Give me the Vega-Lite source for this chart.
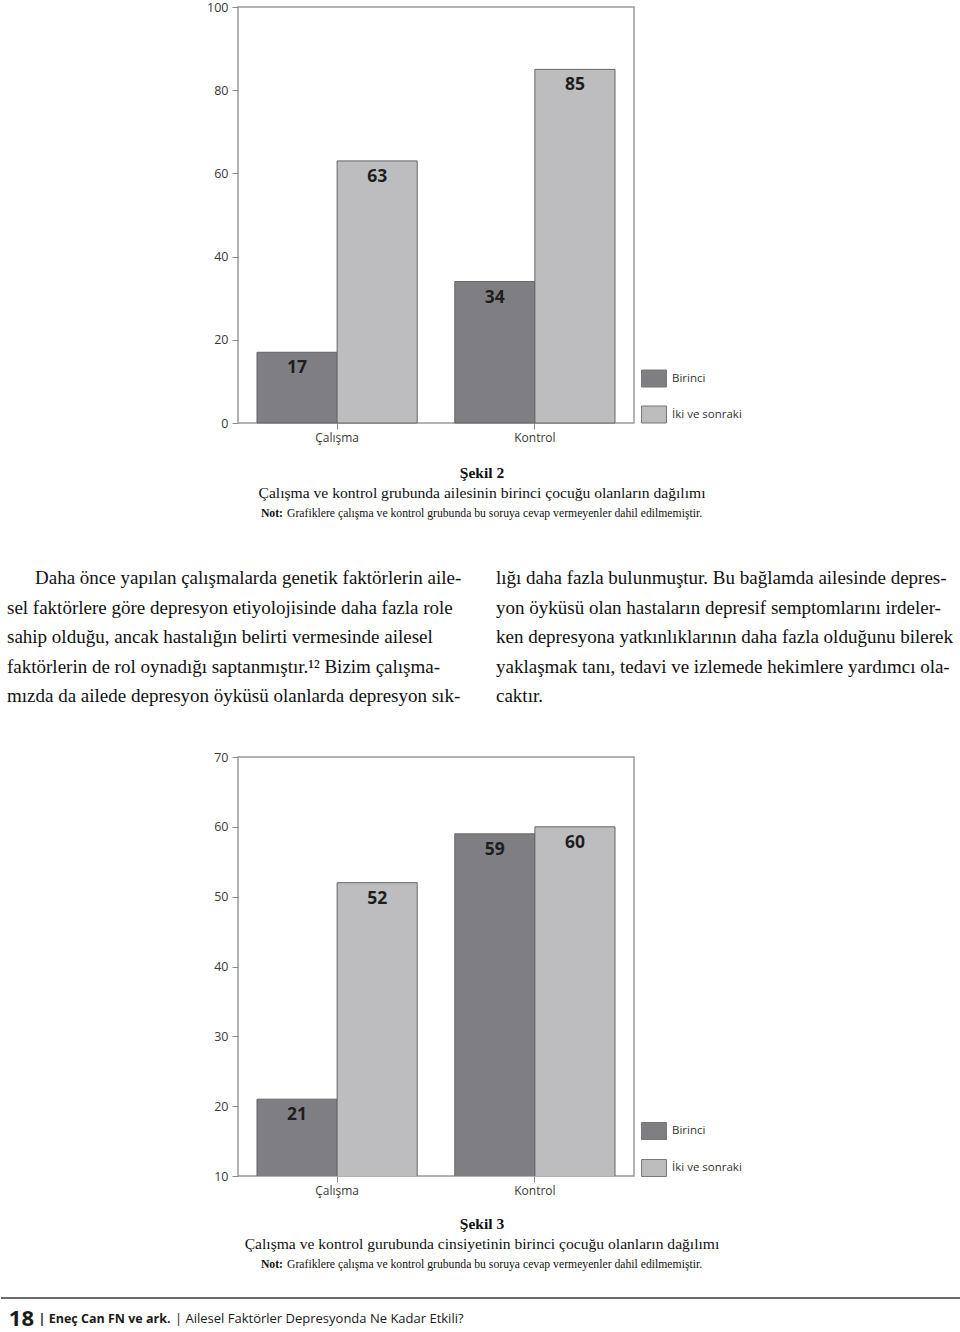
{
  "$schema": "https://vega.github.io/schema/vega-lite/v6.json",
  "padding": {"left": 0, "top": 0, "right": 0, "bottom": 0},
  "background": "white",
  "spacing": 0,
  "bounds": "flush",
  "resolve": {"scale": {"color": "independent"}, "legend": {"color": "independent"}},
  "config": {
    "view": {"stroke": "#9b9b9b", "strokeWidth": 1.5},
    "font": "Open Sans",
    "axis": {"labelFont": "Open Sans", "labelFontSize": 12.5, "labelColor": "#3a3a3a", "tickColor": "#8a8a8a", "domain": false, "grid": false, "tickSize": 6, "title": null},
    "legend": {"labelFont": "Open Sans", "labelFontSize": 11.5, "labelColor": "#333333", "padding": 0}
  },
  "datasets": {
    "sekil2": [
      {"grup": "Çalışma", "sira": "Birinci", "yuzde": 17},
      {"grup": "Çalışma", "sira": "İki ve sonraki", "yuzde": 63},
      {"grup": "Kontrol", "sira": "Birinci", "yuzde": 34},
      {"grup": "Kontrol", "sira": "İki ve sonraki", "yuzde": 85}
    ],
    "sekil3": [
      {"grup": "Çalışma", "sira": "Birinci", "yuzde": 21},
      {"grup": "Çalışma", "sira": "İki ve sonraki", "yuzde": 52},
      {"grup": "Kontrol", "sira": "Birinci", "yuzde": 59},
      {"grup": "Kontrol", "sira": "İki ve sonraki", "yuzde": 60}
    ],
    "baslik2": [
      {"satir": 1, "parca": "orta", "metin": "Şekil 2"},
      {"satir": 2, "parca": "orta", "metin": "Çalışma ve kontrol grubunda ailesinin birinci çocuğu olanların dağılımı"},
      {"satir": 3, "parca": "a", "metin": "Not:"},
      {"satir": 3, "parca": "b", "metin": "Grafiklere çalışma ve kontrol grubunda bu soruya cevap vermeyenler dahil edilmemiştir."}
    ],
    "baslik3": [
      {"satir": 1, "parca": "orta", "metin": "Şekil 3"},
      {"satir": 2, "parca": "orta", "metin": "Çalışma ve kontrol gurubunda cinsiyetinin birinci çocuğu olanların dağılımı"},
      {"satir": 3, "parca": "a", "metin": "Not:"},
      {"satir": 3, "parca": "b", "metin": "Grafiklere çalışma ve kontrol grubunda bu soruya cevap vermeyenler dahil edilmemiştir."}
    ],
    "paragraf": [
      {"sutun": "L", "satir": 1, "metin": "Daha önce yapılan çalışmalarda genetik faktörlerin aile-"},
      {"sutun": "L", "satir": 2, "metin": "sel faktörlere göre depresyon etiyolojisinde daha fazla role"},
      {"sutun": "L", "satir": 3, "metin": "sahip olduğu, ancak hastalığın belirti vermesinde ailesel"},
      {"sutun": "L", "satir": 4, "metin": "faktörlerin de rol oynadığı saptanmıştır.¹² Bizim çalışma-"},
      {"sutun": "L", "satir": 5, "metin": "mızda da ailede depresyon öyküsü olanlarda depresyon sık-"},
      {"sutun": "R", "satir": 1, "metin": "lığı daha fazla bulunmuştur. Bu bağlamda  ailesinde depres-"},
      {"sutun": "R", "satir": 2, "metin": "yon öyküsü olan hastaların depresif semptomlarını irdeler-"},
      {"sutun": "R", "satir": 3, "metin": "ken depresyona yatkınlıklarının daha fazla olduğunu bilerek"},
      {"sutun": "R", "satir": 4, "metin": "yaklaşmak tanı, tedavi ve izlemede hekimlere yardımcı ola-"},
      {"sutun": "R", "satir": 5, "metin": "caktır."}
    ],
    "altbilgi": [
      {"k": "cizgi", "parca": "cizgi", "metin": ""},
      {"k": "metin", "parca": "num", "metin": "18"},
      {"k": "metin", "parca": "auth", "metin": "| Eneç Can FN ve ark."},
      {"k": "metin", "parca": "title", "metin": "| Ailesel Faktörler Depresyonda Ne Kadar Etkili?"}
    ]
  },
  "vconcat": [
    {
      "width": 396,
      "height": 416,
      "data": {"name": "sekil2"},
      "encoding": {
        "x": {"field": "grup", "type": "nominal", "sort": ["Çalışma", "Kontrol"], "scale": {"paddingInner": 0.19, "paddingOuter": 0.096}, "axis": {"labelAngle": 0, "labelPadding": 3, "labelFontSize": 12, "title": null}},
        "xOffset": {"field": "sira", "type": "nominal", "sort": ["Birinci", "İki ve sonraki"], "scale": {"paddingInner": 0, "paddingOuter": 0}},
        "y": {"field": "yuzde", "type": "quantitative", "scale": {"domain": [0, 100], "nice": false}, "axis": {"values": [0, 20, 40, 60, 80, 100], "labelPadding": 4, "title": null}}
      },
      "layer": [
        {
          "mark": {"type": "bar", "stroke": "#666666", "strokeWidth": 1},
          "encoding": {
            "color": {"field": "sira", "type": "nominal", "scale": {"domain": ["Birinci", "İki ve sonraki"], "range": ["#7f7f83", "#bdbdbf"]},
              "legend": {"orient": "none", "legendX": 407, "legendY": 362.5, "title": null, "symbolType": "M-1.47,-1L1.47,-1L1.47,1L-1.47,1Z", "symbolSize": 289, "symbolStrokeColor": "#777777", "symbolStrokeWidth": 1, "symbolOpacity": 1, "labelOffset": 9, "rowPadding": 14}}
          }
        },
        {
          "mark": {"type": "text", "baseline": "middle", "dy": 16, "fontWeight": "bold", "fontSize": 17.5, "font": "Open Sans", "color": "#1e1e1e"},
          "encoding": {"text": {"field": "yuzde", "type": "quantitative"}}
        }
      ]
    },
    {
      "width": 488,
      "height": 138.5,
      "view": {"stroke": null},
      "data": {"name": "baslik2"},
      "encoding": {
        "y": {"field": "satir", "type": "ordinal", "scale": {"type": "point", "domain": [1, 2, 3], "range": [50, 90], "padding": 0}, "axis": null},
        "text": {"field": "metin", "type": "nominal"}
      },
      "layer": [
        {"transform": [{"filter": "datum.satir == 1"}], "mark": {"type": "text", "font": "Liberation Serif", "fontSize": 15.5, "fontWeight": "bold", "baseline": "middle", "color": "#111111"}},
        {"transform": [{"filter": "datum.satir == 2"}], "mark": {"type": "text", "font": "Liberation Serif", "fontSize": 15.6, "baseline": "middle", "color": "#111111"}},
        {"transform": [{"filter": "datum.parca == 'a'"}], "mark": {"type": "text", "font": "Liberation Serif", "fontSize": 11.7, "fontWeight": "bold", "align": "right", "baseline": "middle", "color": "#111111"},
          "encoding": {"x": {"field": "parca", "type": "nominal", "scale": {"type": "point", "domain": ["a", "b"], "range": [45, 49], "padding": 0}, "axis": null}}},
        {"transform": [{"filter": "datum.parca == 'b'"}], "mark": {"type": "text", "font": "Liberation Serif", "fontSize": 11.7, "align": "left", "baseline": "middle", "color": "#111111"},
          "encoding": {"x": {"field": "parca", "type": "nominal", "scale": {"type": "point", "domain": ["a", "b"], "range": [45, 49], "padding": 0}, "axis": null}}}
      ]
    },
    {
      "width": 488,
      "height": 195,
      "view": {"stroke": null},
      "data": {"name": "paragraf"},
      "encoding": {
        "x": {"field": "sutun", "type": "nominal", "scale": {"type": "point", "domain": ["L", "R"], "range": [-231, 258], "padding": 0}, "axis": null},
        "y": {"field": "satir", "type": "ordinal", "scale": {"type": "point", "domain": [1, 2, 3, 4, 5], "range": [16, 134], "padding": 0}, "axis": null},
        "text": {"field": "metin", "type": "nominal"}
      },
      "layer": [
        {"transform": [{"filter": "datum.sutun == 'L' && datum.satir == 1"}], "mark": {"type": "text", "font": "Liberation Serif", "fontSize": 19, "align": "left", "baseline": "middle", "dx": 28, "color": "#111111"}},
        {"transform": [{"filter": "!(datum.sutun == 'L' && datum.satir == 1)"}], "mark": {"type": "text", "font": "Liberation Serif", "fontSize": 19, "align": "left", "baseline": "middle", "color": "#111111"}}
      ]
    },
    {
      "width": 396,
      "height": 419,
      "data": {"name": "sekil3"},
      "encoding": {
        "x": {"field": "grup", "type": "nominal", "sort": ["Çalışma", "Kontrol"], "scale": {"paddingInner": 0.19, "paddingOuter": 0.096}, "axis": {"labelAngle": 0, "labelPadding": 3, "labelFontSize": 12, "title": null}},
        "xOffset": {"field": "sira", "type": "nominal", "sort": ["Birinci", "İki ve sonraki"], "scale": {"paddingInner": 0, "paddingOuter": 0}},
        "y": {"field": "yuzde", "type": "quantitative", "scale": {"domain": [10, 70], "nice": false, "zero": false}, "axis": {"values": [10, 20, 30, 40, 50, 60, 70], "labelPadding": 4, "title": null}}
      },
      "layer": [
        {
          "mark": {"type": "bar", "stroke": "#666666", "strokeWidth": 1, "clip": true},
          "encoding": {
            "color": {"field": "sira", "type": "nominal", "scale": {"domain": ["Birinci", "İki ve sonraki"], "range": ["#7f7f83", "#bdbdbf"]},
              "legend": {"orient": "none", "legendX": 407, "legendY": 365, "title": null, "symbolType": "M-1.47,-1L1.47,-1L1.47,1L-1.47,1Z", "symbolSize": 289, "symbolStrokeColor": "#777777", "symbolStrokeWidth": 1, "symbolOpacity": 1, "labelOffset": 9, "rowPadding": 15}}
          }
        },
        {
          "mark": {"type": "text", "baseline": "middle", "dy": 16, "fontWeight": "bold", "fontSize": 17.5, "font": "Open Sans", "color": "#1e1e1e"},
          "encoding": {"text": {"field": "yuzde", "type": "quantitative"}}
        }
      ]
    },
    {
      "width": 488,
      "height": 122,
      "view": {"stroke": null},
      "data": {"name": "baslik3"},
      "encoding": {
        "y": {"field": "satir", "type": "ordinal", "scale": {"type": "point", "domain": [1, 2, 3], "range": [48, 88], "padding": 0}, "axis": null},
        "text": {"field": "metin", "type": "nominal"}
      },
      "layer": [
        {"transform": [{"filter": "datum.satir == 1"}], "mark": {"type": "text", "font": "Liberation Serif", "fontSize": 15.5, "fontWeight": "bold", "baseline": "middle", "color": "#111111"}},
        {"transform": [{"filter": "datum.satir == 2"}], "mark": {"type": "text", "font": "Liberation Serif", "fontSize": 15.6, "baseline": "middle", "color": "#111111"}},
        {"transform": [{"filter": "datum.parca == 'a'"}], "mark": {"type": "text", "font": "Liberation Serif", "fontSize": 11.7, "fontWeight": "bold", "align": "right", "baseline": "middle", "color": "#111111"},
          "encoding": {"x": {"field": "parca", "type": "nominal", "scale": {"type": "point", "domain": ["a", "b"], "range": [45, 49], "padding": 0}, "axis": null}}},
        {"transform": [{"filter": "datum.parca == 'b'"}], "mark": {"type": "text", "font": "Liberation Serif", "fontSize": 11.7, "align": "left", "baseline": "middle", "color": "#111111"},
          "encoding": {"x": {"field": "parca", "type": "nominal", "scale": {"type": "point", "domain": ["a", "b"], "range": [45, 49], "padding": 0}, "axis": null}}}
      ]
    },
    {
      "width": 488,
      "height": 34,
      "view": {"stroke": null},
      "data": {"name": "altbilgi"},
      "encoding": {
        "y": {"field": "k", "type": "nominal", "scale": {"type": "point", "domain": ["cizgi", "metin"], "range": [0, 21], "padding": 0}, "axis": null}
      },
      "resolve": {"scale": {"x": "independent"}},
      "layer": [
        {"transform": [{"filter": "datum.k == 'cizgi'"}], "mark": {"type": "rule", "color": "#3a3a3a", "strokeWidth": 1.5},
          "encoding": {"x": {"datum": 0, "type": "quantitative", "scale": {"domain": [0, 1], "range": [-237, 723]}, "axis": null}, "x2": {"datum": 1}}},
        {"layer": [
          {"transform": [{"filter": "datum.parca == 'num'"}], "mark": {"type": "text", "font": "Open Sans", "fontSize": 22, "fontWeight": "bold", "align": "right", "baseline": "middle", "color": "#1a1a1a"},
            "encoding": {"x": {"field": "parca", "type": "nominal", "scale": {"type": "point", "domain": ["num", "auth", "title"], "range": [-204, -63], "padding": 0}, "axis": null}, "text": {"field": "metin"}}},
          {"transform": [{"filter": "datum.parca == 'auth'"}], "mark": {"type": "text", "font": "Open Sans", "fontSize": 12.5, "fontWeight": "bold", "align": "center", "baseline": "middle", "color": "#1a1a1a"},
            "encoding": {"x": {"field": "parca", "type": "nominal", "scale": {"type": "point", "domain": ["num", "auth", "title"], "range": [-204, -63], "padding": 0}, "axis": null}, "text": {"field": "metin"}}},
          {"transform": [{"filter": "datum.parca == 'title'"}], "mark": {"type": "text", "font": "Open Sans", "fontSize": 13, "align": "left", "baseline": "middle", "color": "#1a1a1a"},
            "encoding": {"x": {"field": "parca", "type": "nominal", "scale": {"type": "point", "domain": ["num", "auth", "title"], "range": [-204, -63], "padding": 0}, "axis": null}, "text": {"field": "metin"}}}
        ]}
      ]
    }
  ]
}
